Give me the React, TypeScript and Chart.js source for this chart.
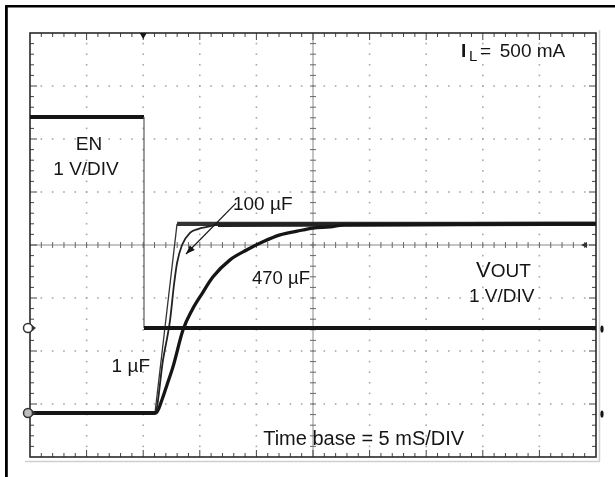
import React, { useEffect, useRef } from "react";
import { Chart, registerables } from "chart.js";

Chart.register(...registerables);

// ---- Data (time in ms, 5 ms/div; voltages in V, 1 V/div) ----
const TIME_MIN_MS = -10;
const TIME_MAX_MS = 40;

const EN_TIME_MS = [-10, 0.07, 0.07, 40];
const EN_VOLTS = [3.98, 3.98, 0, 0];

const VOUT_1UF_TIME_MS = [-10, 1.04, 2.99, 40];
const VOUT_1UF_VOLTS = [0, 0, 3.57, 3.57];

const VOUT_100UF_TIME_MS = [-10, 1.04, 1.75, 2.37, 2.72, 2.99, 3.43, 4.13, 4.84, 5.64, 6.61, 40];
const VOUT_100UF_VOLTS = [0, 0, 1.0, 1.75, 2.42, 2.83, 3.17, 3.4, 3.47, 3.51, 3.55, 3.57];

const VOUT_470UF_TIME_MS = [-10, 1.13, 1.66, 2.1, 2.63, 3.52, 4.31, 5.19, 6.17, 7.67, 9.17, 10.58, 12.09, 13.59, 15.0, 16.5, 17.83, 40];
const VOUT_470UF_VOLTS = [0, 0, 0.25, 0.53, 0.87, 1.57, 1.94, 2.25, 2.57, 2.89, 3.08, 3.23, 3.36, 3.43, 3.49, 3.51, 3.55, 3.57];

// screen ranges of the two channels (8 divisions, 1 V/div)
const VOUT_AXIS_MIN = -0.83;
const VOUT_AXIS_MAX = 7.17;
const EN_AXIS_MIN = -2.434;
const EN_AXIS_MAX = 5.566;

const toPoints = (t: number[], v: number[]) => t.map((x, i) => ({ x, y: v[i] }));

const FONT = '"Liberation Sans", Arial, sans-serif';
const INK = "#151515";

const segWidth = (thin: number, thick: number) => (c: any) =>
  Math.abs(c.p1.parsed.y - c.p0.parsed.y) < 0.03 ? thick : thin;

const scopePlugin = {
  id: "scope",
  beforeDraw(chart: any) {
    const ctx = chart.ctx;
    ctx.save();
    ctx.fillStyle = "#ffffff";
    ctx.fillRect(0, 0, chart.width, chart.height);
    ctx.restore();
  },
  beforeDatasetsDraw(chart: any) {
    const ctx = chart.ctx;
    const { left, top, right, bottom } = chart.chartArea;
    const dx = (right - left) / 10;
    const dy = (bottom - top) / 8;
    const cx = left + 5 * dx;
    const cy = top + 4 * dy;
    ctx.save();
    // dotted graticule
    ctx.fillStyle = "#a9a9a9";
    for (let i = 1; i < 10; i++) {
      if (i === 5) continue;
      const x = left + i * dx;
      for (let j = 1; j < 40; j++) {
        const y = top + (j * dy) / 5;
        ctx.fillRect(x - 0.8, y - 0.8, 1.6, 1.6);
      }
    }
    for (let j = 1; j < 8; j++) {
      if (j === 4) continue;
      const y = top + j * dy;
      for (let k = 1; k < 50; k++) {
        const x = left + (k * dx) / 5;
        ctx.fillRect(x - 0.8, y - 0.8, 1.6, 1.6);
      }
    }
    // centre cross
    ctx.strokeStyle = "#8a8a8a";
    ctx.lineWidth = 1;
    ctx.beginPath();
    ctx.moveTo(left, cy);
    ctx.lineTo(right, cy);
    ctx.moveTo(cx, top);
    ctx.lineTo(cx, bottom);
    ctx.stroke();
    ctx.strokeStyle = "#666";
    ctx.beginPath();
    for (let k = 1; k < 50; k++) {
      const x = left + (k * dx) / 5;
      ctx.moveTo(x, cy - 3);
      ctx.lineTo(x, cy + 3);
    }
    for (let k = 1; k < 40; k++) {
      const y = top + (k * dy) / 5;
      ctx.moveTo(cx - 3, y);
      ctx.lineTo(cx + 3, y);
    }
    ctx.stroke();
    // border ticks
    ctx.strokeStyle = "#444";
    ctx.lineWidth = 1;
    ctx.beginPath();
    for (let k = 1; k < 50; k++) {
      const x = left + (k * dx) / 5;
      const len = k % 5 === 0 ? 7 : 4;
      ctx.moveTo(x, top);
      ctx.lineTo(x, top + len);
      ctx.moveTo(x, bottom);
      ctx.lineTo(x, bottom - len);
    }
    for (let k = 1; k < 40; k++) {
      const y = top + (k * dy) / 5;
      const len = k % 5 === 0 ? 7 : 4;
      ctx.moveTo(left, y);
      ctx.lineTo(left + len, y);
      ctx.moveTo(right, y);
      ctx.lineTo(right - len, y);
    }
    ctx.stroke();
    // shadow lines
    ctx.strokeStyle = "#cfcfcf";
    ctx.lineWidth = 1.5;
    ctx.beginPath();
    ctx.moveTo(left - 5, bottom + 4.5);
    ctx.lineTo(right + 4, bottom + 4.5);
    ctx.moveTo(right + 3.5, top - 3);
    ctx.lineTo(right + 3.5, bottom + 4);
    ctx.stroke();
    // border
    ctx.strokeStyle = "#2a2a2a";
    ctx.lineWidth = 1.6;
    ctx.strokeRect(left, top, right - left, bottom - top);
    ctx.restore();
  },
  afterDatasetsDraw(chart: any) {
    const ctx = chart.ctx;
    const { left, top, right } = chart.chartArea;
    const xs = chart.scales.x;
    const yv = chart.scales.yV;
    const ye = chart.scales.yEN;
    const X = (t: number) => xs.getPixelForValue(t);
    const Y = (v: number) => yv.getPixelForValue(v);
    ctx.save();
    ctx.fillStyle = INK;
    ctx.textBaseline = "alphabetic";
    const text = (s: string, t: number, v: number, align: CanvasTextAlign = "left", size = 19) => {
      ctx.font = `${size}px ${FONT}`;
      ctx.textAlign = align;
      ctx.fillText(s, X(t), Y(v));
    };
    text("EN", -4.79, 4.96, "center");
    text("1 V/DIV", -5.05, 4.49, "center");
    text("100 µF", 7.93, 3.83, "left", 19);
    text("470 µF", 9.61, 2.43, "left", 18.5);
    text("1 µF", 0.6, 0.77, "right");
    text("Time base = 5 mS/DIV", 10.6, -0.6, "left", 20);
    text("1 V/DIV", 28.78, 2.09, "left");
    // VOUT
    ctx.font = `22px ${FONT}`;
    ctx.textAlign = "left";
    ctx.fillText("V", X(29.4), Y(2.57));
    const vw = ctx.measureText("V").width;
    ctx.font = `19px ${FONT}`;
    ctx.fillText("OUT", X(29.4) + vw, Y(2.57));
    // I_L = 500 mA
    ctx.font = `bold 19px ${FONT}`;
    ctx.fillText("I", X(28.07), Y(6.72));
    ctx.font = `15px ${FONT}`;
    ctx.fillText("L", X(28.78), Y(6.72) + 4);
    ctx.font = `19px ${FONT}`;
    ctx.fillText("=", X(29.75), Y(6.72));
    ctx.fillText("500 mA", X(31.5), Y(6.72));

    // arrow to the 100 µF trace
    const ax0 = X(8.2), ay0 = Y(3.96), ax1 = X(3.78), ay1 = Y(3.0);
    ctx.strokeStyle = INK;
    ctx.lineWidth = 1.2;
    ctx.beginPath();
    ctx.moveTo(ax0, ay0);
    ctx.lineTo(ax1, ay1);
    ctx.stroke();
    const ang = Math.atan2(ay1 - ay0, ax1 - ax0);
    const hl = 9, hw = 3.5;
    ctx.beginPath();
    ctx.moveTo(ax1, ay1);
    ctx.lineTo(ax1 - hl * Math.cos(ang) + hw * Math.sin(ang), ay1 - hl * Math.sin(ang) - hw * Math.cos(ang));
    ctx.lineTo(ax1 - hl * Math.cos(ang) - hw * Math.sin(ang), ay1 - hl * Math.sin(ang) + hw * Math.cos(ang));
    ctx.closePath();
    ctx.fill();

    // trigger marker
    const tx = X(0);
    ctx.beginPath();
    ctx.moveTo(tx - 3.5, top);
    ctx.lineTo(tx + 3.5, top);
    ctx.lineTo(tx, top + 6);
    ctx.closePath();
    ctx.fill();

    // ground markers (left) and right-side markers
    const grounds = [ye.getPixelForValue(0), yv.getPixelForValue(0)];
    grounds.forEach((gy: number, i: number) => {
      ctx.fillStyle = i === 0 ? "#ffffff" : "#bdbdbd";
      ctx.strokeStyle = "#333";
      ctx.lineWidth = 1.5;
      ctx.beginPath();
      ctx.arc(left - 2, gy, 4.5, 0, Math.PI * 2);
      ctx.fill();
      ctx.stroke();
      ctx.fillStyle = "#333";
      ctx.beginPath();
      ctx.moveTo(left + 2, gy - 3);
      ctx.lineTo(left + 6, gy);
      ctx.lineTo(left + 2, gy + 3);
      ctx.closePath();
      ctx.fill();
      ctx.fillStyle = INK;
      ctx.beginPath();
      ctx.ellipse(right + 6, gy + 1, 1.6, 3.6, 0, 0, Math.PI * 2);
      ctx.fill();
    });
    // centre level marker on right
    const cyy = (chart.chartArea.top + chart.chartArea.bottom) / 2;
    ctx.fillStyle = "#333";
    ctx.beginPath();
    ctx.moveTo(right - 15, cyy);
    ctx.lineTo(right - 9, cyy - 3);
    ctx.lineTo(right - 9, cyy + 3);
    ctx.closePath();
    ctx.fill();

    // outer frame
    ctx.fillStyle = "#000";
    ctx.fillRect(5, 5, chart.width - 5, 2.5);
    ctx.fillRect(5, 5, 2.8, chart.height - 5);
    ctx.restore();
  },
};

export default function App() {
  const ref = useRef<HTMLCanvasElement>(null);
  useEffect(() => {
    const canvas = ref.current;
    if (!canvas) return;
    const chart = new Chart(canvas, {
      type: "line",
      data: {
        datasets: [
          {
            label: "EN",
            data: toPoints(EN_TIME_MS, EN_VOLTS),
            yAxisID: "yEN",
            borderColor: INK,
            borderWidth: 4,
            pointRadius: 0,
            segment: {
              borderWidth: segWidth(1.2, 4),
              borderColor: (c: any) => (Math.abs(c.p1.parsed.y - c.p0.parsed.y) < 0.03 ? INK : "#5a5a5a"),
            },
          },
          {
            label: "VOUT 470 µF",
            data: toPoints(VOUT_470UF_TIME_MS, VOUT_470UF_VOLTS),
            yAxisID: "yV",
            borderColor: INK,
            borderWidth: 3.3,
            pointRadius: 0,
            cubicInterpolationMode: "monotone",
            borderJoinStyle: "round",
          },
          {
            label: "VOUT 100 µF",
            data: toPoints(VOUT_100UF_TIME_MS, VOUT_100UF_VOLTS),
            yAxisID: "yV",
            borderColor: "#222",
            borderWidth: 1.8,
            pointRadius: 0,
            cubicInterpolationMode: "monotone",
            borderJoinStyle: "round",
            segment: { borderWidth: segWidth(1.8, 4.2) },
          },
          {
            label: "VOUT 1 µF",
            data: toPoints(VOUT_1UF_TIME_MS, VOUT_1UF_VOLTS),
            yAxisID: "yV",
            borderColor: "#333",
            borderWidth: 1.3,
            pointRadius: 0,
            segment: { borderWidth: segWidth(1.3, 4.2) },
          },
        ],
      },
      options: {
        animation: false,
        responsive: false,
        devicePixelRatio: 1,
        layout: { padding: { left: 30, top: 33, right: 19, bottom: 20 } },
        plugins: { legend: { display: false }, tooltip: { enabled: false }, title: { display: false } },
        elements: { line: { tension: 0, borderCapStyle: "butt" } },
        scales: {
          x: { type: "linear", min: TIME_MIN_MS, max: TIME_MAX_MS, display: false },
          yV: { type: "linear", min: VOUT_AXIS_MIN, max: VOUT_AXIS_MAX, display: false },
          yEN: { type: "linear", min: EN_AXIS_MIN, max: EN_AXIS_MAX, display: false },
        },
      },
      plugins: [scopePlugin],
    } as any);
    return () => chart.destroy();
  }, []);
  return (
    <div style={{ position: "absolute", left: 0, top: 0, width: 615, height: 477, background: "#fff" }}>
      <canvas ref={ref} width={615} height={477} style={{ display: "block", width: 615, height: 477 }} />
    </div>
  );
}
